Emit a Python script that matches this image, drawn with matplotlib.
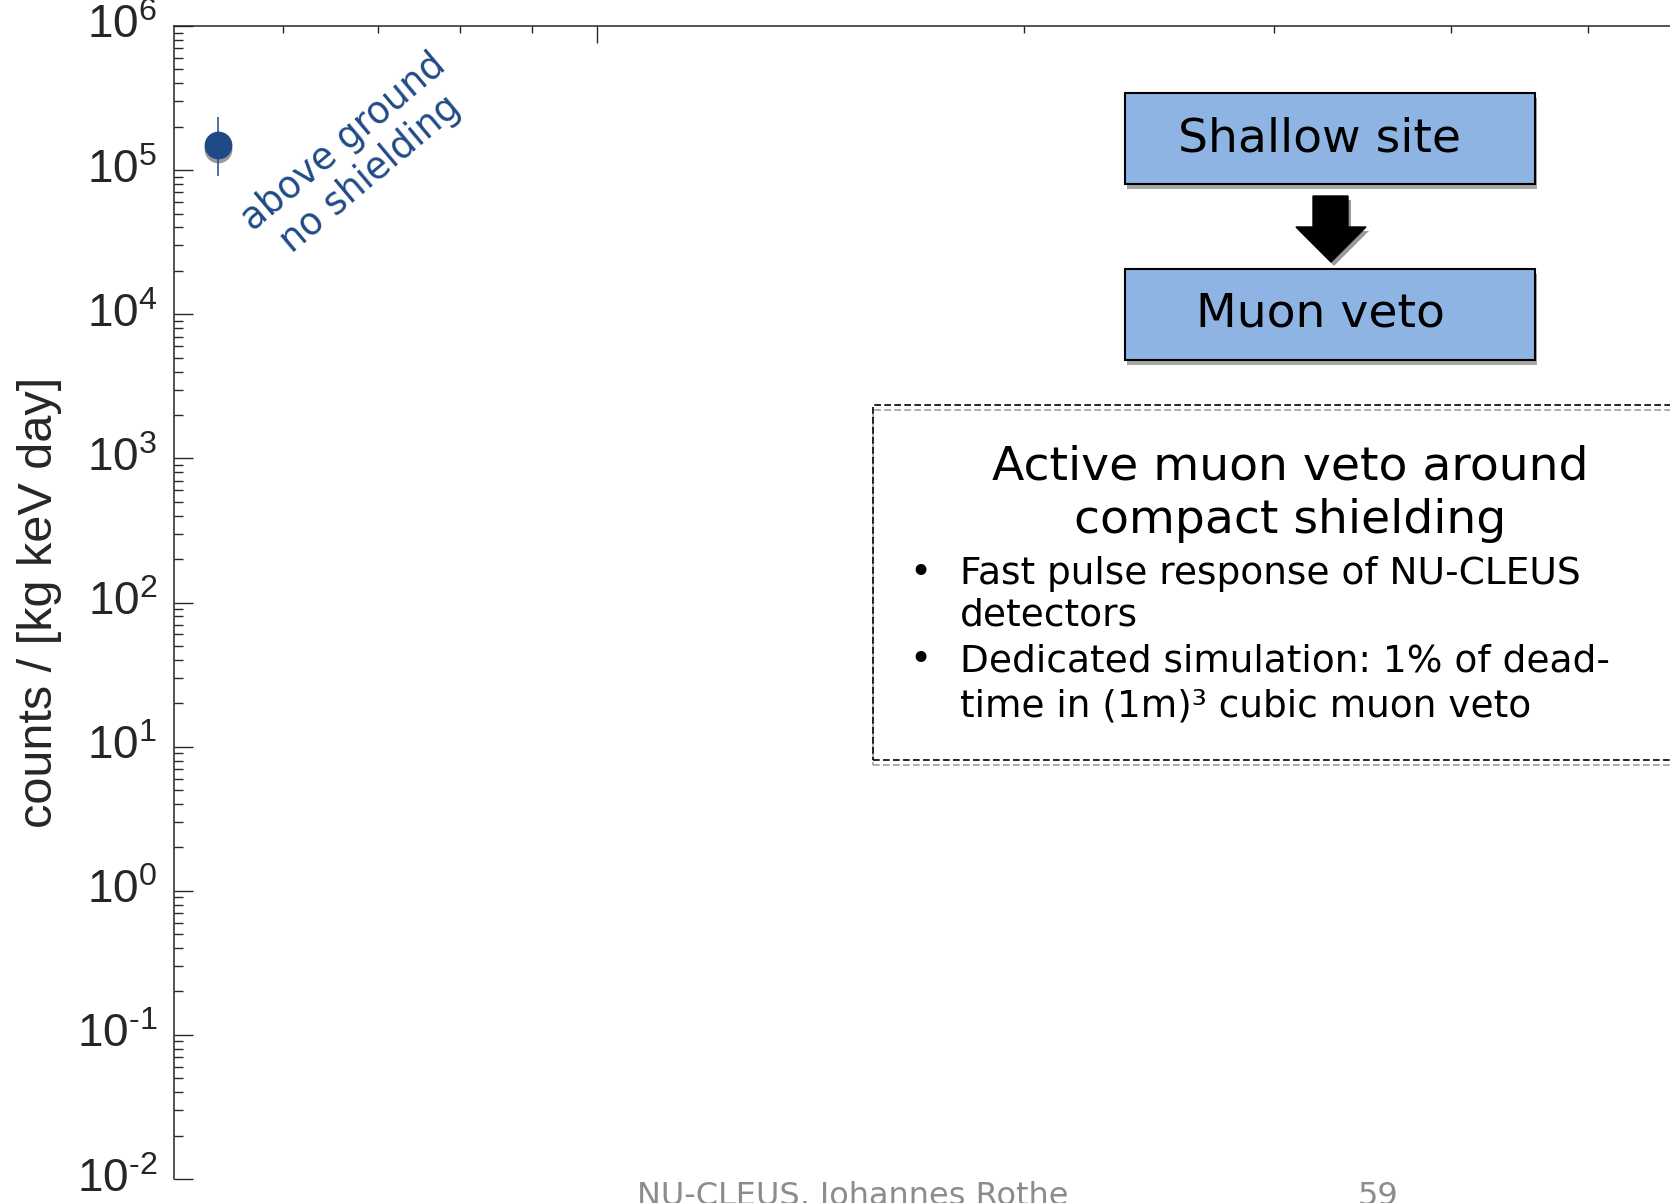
import matplotlib
matplotlib.use("Agg")
import numpy as np
import matplotlib.pyplot as plt
from matplotlib.patches import Rectangle, Polygon
from matplotlib.ticker import FixedLocator, FuncFormatter, LogLocator, NullFormatter
from matplotlib.transforms import ScaledTranslation

# data
x_site = [0.54]
y_rate = [1.49e5]
y_err_low = [0.58e5]
y_err_high = [0.84e5]
point_label = "above ground\nno shielding"
y_ticks = [1e-2, 1e-1, 1e0, 1e1, 1e2, 1e3, 1e4, 1e5, 1e6]
y_label = "counts / [kg keV day]"
box_top = "Shallow site"
box_bottom = "Muon veto"
info_title = ["Active muon veto around", "compact shielding"]
info_bullets = [["Fast pulse response of NU-CLEUS", "detectors"],
                ["Dedicated simulation: 1% of dead-", "time in (1m)\u00b3 cubic muon veto"]]
footer = "NU-CLEUS, Johannes Rothe"
page_no = "59"

W, H = 1670, 1203
plt.rcParams['font.family'] = ['DejaVu Sans']
plt.rcParams['mathtext.fontset'] = 'custom'
plt.rcParams['mathtext.rm'] = 'Liberation Sans'
plt.rcParams['mathtext.it'] = 'Liberation Sans:italic'

def fx(px):
    return px / W

def fy(py):
    return 1 - py / H

def exp_label(v, pos):
    e = int(round(np.log10(v)))
    if e < 0:
        return r'$10^{\text{-}%d}$' % (-e)
    return r'$10^{%d}$' % e

fig = plt.figure(figsize=(W / 100, H / 100), dpi=100)
fig.patch.set_facecolor('white')

# axes: left 174 px, top 26 px, bottom 1179 px, runs past the right edge
x_lo, x_hi = 0.503, 7.0
dec_px = 1418
ax_w = dec_px * np.log10(x_hi / x_lo)
ax = fig.add_axes([fx(174), fy(1179), ax_w / W, (1179 - 26) / H])
ax.set_xscale('log')
ax.set_yscale('log')
ax.set_xlim(x_lo, x_hi)
ax.set_ylim(1e-2, 1e6)

blue = '#1F4A85'
# shadow of the marker
shadow = ScaledTranslation(0, -4 / 100, fig.dpi_scale_trans)
ax.plot(x_site, y_rate, 'o', ms=20, color='#9a9a9a', mec='none',
        transform=ax.transData + shadow, zorder=2)
ax.errorbar(x_site, y_rate, yerr=[y_err_low, y_err_high], fmt='o', ms=20,
            color=blue, mec='none', elinewidth=1.1, capsize=0, zorder=3)

fig.text(fx(357), fy(158), point_label, rotation=40, color=blue,
         fontsize=26.5, ha='center', va='center', multialignment='center',
         linespacing=1.2)

dark = '#262626'
for side in ['right', 'bottom']:
    ax.spines[side].set_visible(False)
for side in ['left', 'top']:
    ax.spines[side].set_color(dark)
    ax.spines[side].set_linewidth(1.1)

ax.yaxis.set_major_locator(FixedLocator(y_ticks))
ax.yaxis.set_minor_locator(LogLocator(base=10, subs=np.arange(2, 10), numticks=100))
ax.yaxis.set_major_formatter(FuncFormatter(exp_label))
ax.yaxis.set_minor_formatter(NullFormatter())
ax.tick_params(axis='y', which='both', direction='in', colors=dark,
               labelsize=33, pad=12, width=1.0)
ax.tick_params(axis='y', which='major', length=13.7)
ax.tick_params(axis='y', which='minor', length=6.5)
for lab in ax.get_yticklabels():
    lab.set_va('center')

ax.xaxis.set_minor_locator(LogLocator(base=10, subs=np.arange(2, 10), numticks=100))
ax.xaxis.set_minor_formatter(NullFormatter())
ax.tick_params(axis='x', which='both', direction='in', bottom=False, top=True,
               labelbottom=False, labeltop=False, colors=dark, width=1.0)
ax.tick_params(axis='x', which='major', length=12)
ax.tick_params(axis='x', which='minor', length=5)

ax.set_ylabel(y_label, fontsize=35, color=dark, family='Liberation Sans')
ax.yaxis.set_label_coords((62 - 174) / ax_w, 0.5)

# flow boxes with shadows
def shadow_box(x0, y0, x1, y1, text):
    fig.add_artist(Rectangle((fx(x0 + 2), fy(y1 + 5)), (x1 - x0) / W, (y1 - y0) / H,
                             transform=fig.transFigure, facecolor='#a6a6a6',
                             edgecolor='none', zorder=5))
    fig.add_artist(Rectangle((fx(x0), fy(y1)), (x1 - x0) / W, (y1 - y0) / H,
                             transform=fig.transFigure, facecolor='#8EB4E3',
                             edgecolor='black', lw=1.5, zorder=6))
    fig.text(fx(1320), fy((y0 + y1) / 2), text, fontsize=34, ha='center',
             va='center', color='black', zorder=7)

shadow_box(1125, 93, 1535, 184, box_top)
shadow_box(1125, 269, 1535, 360, box_bottom)

arrow_pts = [(1313, 196), (1348, 196), (1348, 227), (1366, 227), (1331, 262),
             (1296, 227), (1313, 227)]
fig.add_artist(Polygon([(fx(px + 3), fy(py + 4)) for px, py in arrow_pts],
                       closed=True, transform=fig.transFigure,
                       facecolor='#9a9a9a', edgecolor='none', zorder=5))
fig.add_artist(Polygon([(fx(px), fy(py)) for px, py in arrow_pts],
                       closed=True, transform=fig.transFigure,
                       facecolor='black', edgecolor='black', lw=1, zorder=6))

# dashed info box
for off, col in [(5, '#a0a0a0'), (0, 'black')]:
    fig.add_artist(Rectangle((fx(873), fy(760 + off)), (W + 50 - 873) / W,
                             (760 - 405) / H, transform=fig.transFigure,
                             facecolor='none', edgecolor=col, lw=1.2,
                             linestyle=(0, (4, 2)), zorder=5))

for line, base in zip(info_title, [479, 533]):
    fig.text(fx(1290), fy(base), line, fontsize=34, ha='center', va='baseline',
             color='black', zorder=7)
for lines, bases in zip(info_bullets, [[584, 626], [671, 716]]):
    fig.text(fx(920), fy(bases[0]), '\u2022', fontsize=27, ha='center', va='baseline')
    for line, base in zip(lines, bases):
        fig.text(fx(960), fy(base), line, fontsize=27, ha='left', va='baseline')

fig.text(fx(637), fy(1181), footer, fontsize=23, color='#8c8c8c', ha='left', va='top')
fig.text(fx(1358), fy(1181), page_no, fontsize=23, color='#8c8c8c', ha='left', va='top')

fig.savefig('out.png', dpi=100)
